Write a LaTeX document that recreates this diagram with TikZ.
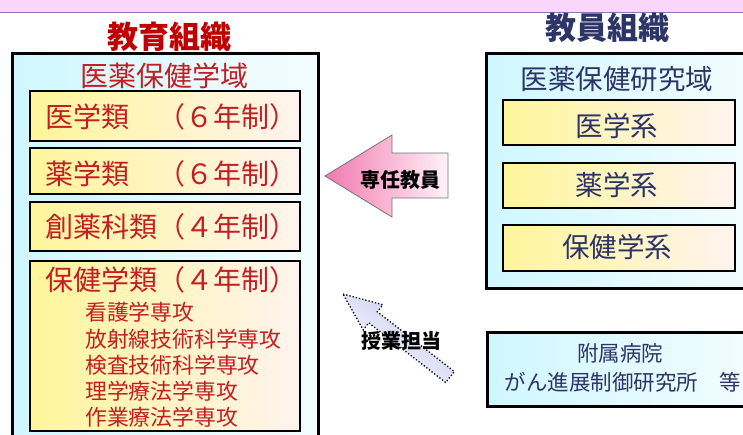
\documentclass[tikz,border=0pt]{standalone}
\usepackage{fontspec}
\newfontfamily\jp{Noto Sans CJK JP}
\definecolor{bandpink}{HTML}{FAD6FA}
\definecolor{bandline}{HTML}{8A78B8}
\definecolor{cyanL}{HTML}{CFF7FF}
\definecolor{cyanR}{HTML}{F4FDFF}
\definecolor{yelL}{HTML}{FFF59A}
\definecolor{yelR}{HTML}{FFF4EE}
\definecolor{redT}{HTML}{C41E24}
\definecolor{redH}{HTML}{C00000}
\definecolor{navyT}{HTML}{2C3468}
\definecolor{pinkA}{HTML}{F27AB0}
\definecolor{pinkB}{HTML}{FFF2F7}
\definecolor{lavA}{HTML}{C4C4F0}
\begin{document}
\begin{tikzpicture}[x=1pt,y=-1pt,
  outerbox/.style={draw=black, line width=2.6pt, left color=cyanL, right color=cyanR, anchor=north west, inner sep=0pt},
  innerbox/.style={draw=black, line width=1.8pt, left color=yelL, right color=yelR, anchor=north west, inner sep=0pt},
  txt/.style={inner sep=0pt, font=\jp},
  titleL/.style={txt, font=\jp\bfseries\fontsize{31}{34}\selectfont, text=redH},
  titleR/.style={txt, font=\jp\bfseries\fontsize{31}{34}\selectfont, text=navyT},
  bigL/.style={txt, font=\jp\fontsize{28}{30}\selectfont, text=redT},
  bigR/.style={txt, font=\jp\fontsize{27.5}{30}\selectfont, text=navyT},
  smallL/.style={txt, font=\jp\fontsize{21.8}{26.2}\selectfont, text=redT, align=left},
  smallR/.style={txt, font=\jp\fontsize{21.5}{28}\selectfont, text=navyT},
  arrowlabel/.style={txt, font=\jp\bfseries\fontsize{20}{22}\selectfont, text=black},
  pinkarrow/.style={draw=black!55, line width=0.8pt, left color=pinkA, right color=pinkB},
  lavarrow/.style={draw=black, line width=1.3pt, dotted, left color=lavA, right color=white, shading angle=-37}
]
\useasboundingbox (0,0) rectangle (743,434);
\clip (0,0) rectangle (743,434);
\fill[bandpink] (0,0) rectangle (743,12);
\draw[bandline, line width=1pt] (0,12.5) -- (743,12.5);

% outer boxes
\node[outerbox, minimum width=306, minimum height=400] (edu) at (11,52) {};
\node[outerbox, minimum width=280, minimum height=235] (fac) at (485,52) {};
\node[outerbox, minimum width=280, minimum height=74] (hosp) at (486,331) {};

% inner boxes left
\node[innerbox, minimum width=270, minimum height=50] (b1) at (29,90) {};
\node[innerbox, minimum width=270, minimum height=46] (b2) at (29,147) {};
\node[innerbox, minimum width=270, minimum height=49] (b3) at (29,201) {};
\node[innerbox, minimum width=270, minimum height=170] (b4) at (29,260) {};
% inner boxes right
\node[innerbox, minimum width=232, minimum height=45] (r1) at (502,99) {};
\node[innerbox, minimum width=232, minimum height=45] (r2) at (502,162) {};
\node[innerbox, minimum width=232, minimum height=46] (r3) at (502,224) {};

% titles
\node[titleL] (tedu) at (169,37) {教育組織};
\node[titleR] (tfac) at (607,28) {教員組織};
\node[bigL] (ledu) at (164,76) {医薬保健学域};
\node[bigR] (lfac) at (617,79) {医薬保健研究域};

% left texts
\node[bigL, anchor=west] (t1) at (45,117) {医学類　（６年制）};
\node[bigL, anchor=west] (t2) at (45,174) {薬学類　（６年制）};
\node[bigL, anchor=west] (t3) at (45,227) {創薬科類（４年制）};
\node[bigL, anchor=west] (t4) at (45,280) {保健学類（４年制）};
\node[smallL, anchor=west] (s1) at (85,312) {看護学専攻};
\node[smallL, anchor=west] (s2) at (85,339) {放射線技術科学専攻};
\node[smallL, anchor=west] (s3) at (85,365) {検査技術科学専攻};
\node[smallL, anchor=west] (s4) at (85,391) {理学療法学専攻};
\node[smallL, anchor=west] (s5) at (85,417) {作業療法学専攻};

% right texts
\node[bigR] (u1) at (617,126) {医学系};
\node[bigR] (u2) at (617,185) {薬学系};
\node[bigR] (u3) at (617,247) {保健学系};
\node[smallR] (h1) at (620,353) {附属病院};
\node[smallR] (h2) at (623,382) {がん進展制御研究所　等};

% arrows
\draw[pinkarrow] (325,176) -- (392,135) -- (392,153) -- (448,153) -- (448,198) -- (392,198) -- (392,217) -- cycle;
\node[arrowlabel] (a1) at (400,180) {専任教員};
\draw[lavarrow] (343,294) -- (382.8,304.7) -- (377.3,311.8) -- (454.3,371.5) -- (445.7,382.5) -- (368.7,322.8) -- (363.2,329.9) -- cycle;
\node[arrowlabel] (a2) at (401,341) {授業担当};
\end{tikzpicture}
\end{document}
